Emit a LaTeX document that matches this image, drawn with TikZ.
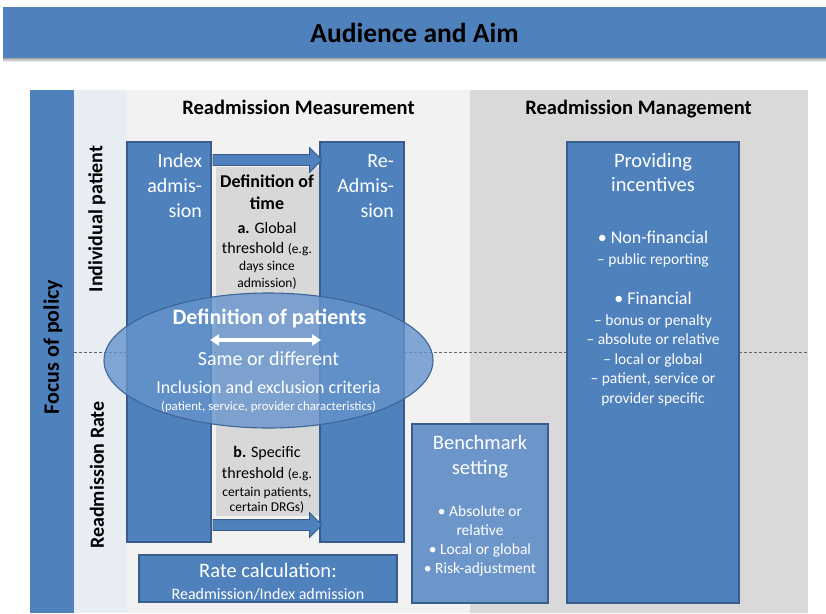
\documentclass[tikz,border=0pt]{standalone}
\usepackage{fontspec}
\setmainfont{Carlito}
\usetikzlibrary{shapes.geometric,shapes.arrows,arrows.meta}
\definecolor{blu}{HTML}{4F81BD}
\definecolor{bluD}{HTML}{385D8A}
\definecolor{bluL}{HTML}{6C95C9}
\definecolor{ellF}{HTML}{6694CC}
\definecolor{ellD}{HTML}{3D6599}
\definecolor{colL}{HTML}{E8ECF3}
\definecolor{measBg}{HTML}{F2F2F2}
\definecolor{mgmtBg}{HTML}{D9D9D9}
\definecolor{timeBg}{HTML}{D8D8D8}
\newcommand\fsz[2]{\fontsize{#1}{#2}\selectfont}
\begin{document}
\begin{tikzpicture}[x=1pt,y=-1pt,
  every node/.style={inner sep=0pt, outer sep=0pt},
  bx/.style={draw=bluD, line width=1.1pt, fill=blu, anchor=north west},
  wl/.style={anchor=mid, text=white, yshift=-5pt},
  wr/.style={anchor=mid east, text=white, yshift=-5pt},
  kl/.style={anchor=mid, text=black, yshift=-5pt},
  blockarrow/.style={single arrow, draw=bluD, line width=0.9pt, fill=blu,
    single arrow head extend=7pt, single arrow head indent=0pt,
    inner xsep=0pt, inner ysep=5pt, minimum height=109pt, anchor=west},
  dbl/.style={draw=white, line width=3.5pt, {Triangle[length=9pt,width=11pt]}-{Triangle[length=9pt,width=11pt]}},
]
\useasboundingbox (0,0) rectangle (826,613);
\fill[white] (0,0) rectangle (826,613);
% title bar
\shade[top color=black!35, bottom color=white] (3,58) rectangle (826,62);
\fill[blu] (3,7) rectangle (826,58);
\node[kl, font=\bfseries\fsz{27.5}{32}, yshift=-2pt] (title) at (414.5,33) {Audience and Aim};
% background columns
\fill[blu] (30,90) rectangle (74,613);
\fill[colL] (74,90) rectangle (127,613);
\fill[measBg] (127,90) rectangle (470,613);
\fill[mgmtBg] (470,90) rectangle (808,613);
\draw[black!60, line width=0.6pt, dash pattern=on 3pt off 2pt] (74,352) -- (808,352);
% headers
\node[kl, font=\bfseries\fsz{20.5}{24}] (hmeas) at (298.5,107) {Readmission Measurement};
\node[kl, font=\bfseries\fsz{20.5}{24}] (hmgmt) at (638.5,107) {Readmission Management};
\node[rotate=90, font=\bfseries\fsz{22}{26}] (focus) at (53,347) {Focus of policy};
\node[rotate=90, font=\bfseries\fsz{20}{24}] (indiv) at (97,219) {Individual patient};
\node[rotate=90, font=\bfseries\fsz{20}{24}] (rrate) at (97,475) {Readmission Rate};
% boxes
\node[bx, minimum width=84pt, minimum height=400pt] (idx) at (127,142) {};
\node[bx, minimum width=84pt, minimum height=400pt] (readm) at (320,142) {};
\node[fill=timeBg, anchor=north west, minimum width=103pt, minimum height=349pt] (time) at (216,167) {};
\node[blockarrow] (arrtop) at (213,160) {};
\node[blockarrow] (arrbot) at (213,525) {};
% index / readmission texts
\begin{scope}[font=\fsz{20}{24}]
\node[wr] at (202,160) {Index};
\node[wr] at (202,185) {admis-};
\node[wr] at (202,210) {sion};
\node[wr] at (394,160) {Re-};
\node[wr] at (394,185) {Admis-};
\node[wr] at (394,210) {sion};
\end{scope}
% definition of time
\node[kl, font=\bfseries\fsz{18}{22}] at (267,180) {Definition of};
\node[kl, font=\bfseries\fsz{18}{22}] at (267,202) {time};
\node[kl, font=\fsz{16}{19}] at (267,226) {\textbf{a.} Global};
\node[kl, font=\fsz{16}{19}] at (267,246) {threshold {\fsz{13.5}{16}(e.g.}};
\node[kl, font=\fsz{13.5}{16}] at (267,263) {days since};
\node[kl, font=\fsz{13.5}{16}] at (267,280) {admission)};
\node[kl, font=\fsz{16}{19}] at (267,450) {\textbf{b.} Specific};
\node[kl, font=\fsz{16}{19}] at (267,471) {threshold {\fsz{13.5}{16}(e.g.}};
\node[kl, font=\fsz{13.5}{16}] at (267,489) {certain patients,};
\node[kl, font=\fsz{13.5}{16}] at (267,504) {certain DRGs)};
% ellipse
\node[ellipse, draw=ellD, line width=1.1pt, fill=ellF, fill opacity=0.8,
  minimum width=329pt, minimum height=135pt] (pat) at (268.5,360.5) {};
\node[wl, font=\bfseries\fsz{22}{26}] at (269.5,317) {Definition of patients};
\coordinate (dA) at (210,340);
\coordinate (dB) at (321,340);
\draw[dbl] (dA) -- (dB);
\node[wl, font=\fsz{20}{24}] at (268.5,358) {Same or different};
\node[wl, font=\fsz{18}{22}] at (268.5,386) {Inclusion and exclusion criteria};
\node[wl, font=\fsz{12.8}{15}, yshift=2pt] at (268.5,405) {(patient, service, provider characteristics)};
% rate calculation
\node[bx, minimum width=258pt, minimum height=47pt] (rate) at (139,555) {};
\node[wl, font=\fsz{20.5}{24}] at (268,570) {Rate calculation:};
\node[wl, font=\fsz{16}{19}] at (268,592) {Readmission/Index admission};
% benchmark
\node[bx, fill=bluL, minimum width=136pt, minimum height=179pt] (bench) at (412,424) {};
\begin{scope}[font=\fsz{20.5}{24}]
\node[wl] at (480,442) {Benchmark};
\node[wl] at (480,467) {setting};
\end{scope}
\begin{scope}[font=\fsz{15.5}{19}]
\node[wl] at (480,509) {• Absolute or};
\node[wl] at (480,528) {relative};
\node[wl] at (480,547) {• Local or global};
\node[wl] at (480,566) {• Risk-adjustment};
\end{scope}
% incentives
\node[bx, minimum width=172pt, minimum height=461pt] (inc) at (567,142) {};
\begin{scope}[font=\fsz{20.5}{24}]
\node[wl] at (653,160) {Providing};
\node[wl] at (653,184) {incentives};
\end{scope}
\node[wl, font=\fsz{18}{22}] at (653,236) {• Non-financial};
\node[wl, font=\fsz{15.5}{19}] at (653,257) {– public reporting};
\node[wl, font=\fsz{18}{22}] at (653,297) {• Financial};
\begin{scope}[font=\fsz{15.5}{19}]
\node[wl] at (653,318) {– bonus or penalty};
\node[wl] at (653,337) {– absolute or relative};
\node[wl] at (653,357) {– local or global};
\node[wl] at (653,376) {– patient, service or};
\node[wl] at (653,396) {provider specific};
\end{scope}
\end{tikzpicture}
\end{document}
